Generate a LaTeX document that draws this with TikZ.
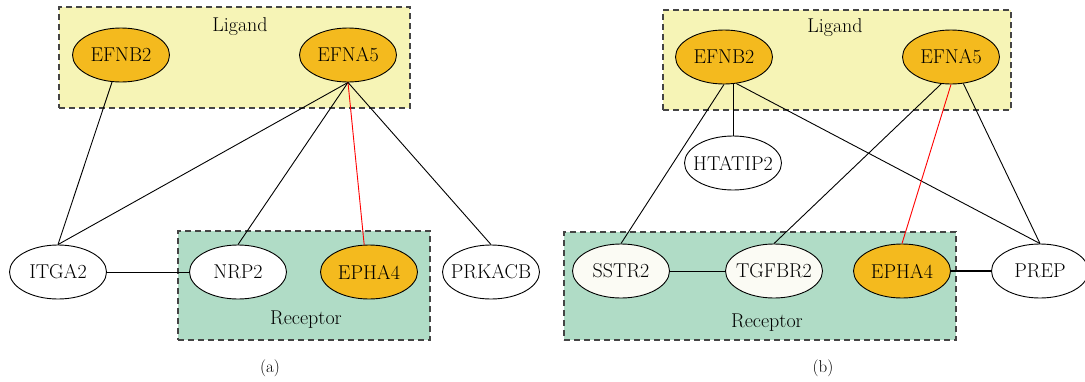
\documentclass[tikz,border=0pt]{standalone}
\usepackage{fontspec}
\usepackage{xcolor}
\usepackage{tikz}
\usetikzlibrary{shapes.geometric, positioning, calc}

\definecolor{hubcol}{HTML}{F4BA1E}
\definecolor{ligcol}{HTML}{F6F4B6}
\definecolor{reccol}{HTML}{B0DCC6}
\definecolor{boxline}{HTML}{444444}
\definecolor{paleN}{HTML}{FBFBF4}

\begin{document}
\begin{tikzpicture}[
    x=1pt, y=-1pt,
    font=\fontsize{20}{22}\selectfont,
    gene/.style={ellipse, draw, line width=0.9pt, fill=white, minimum width=97pt, minimum height=54pt, inner xsep=-14pt, inner ysep=0pt},
    hub/.style={gene, fill=hubcol},
    group/.style={rectangle, draw=boxline, dashed, dash pattern=on 6pt off 4pt, line width=1.3pt, inner sep=0pt},
    link/.style={line width=0.9pt},
    inter/.style={link, red}
]
\useasboundingbox (0,0) rectangle (1085,381);

% (a)
\node[group, fill=ligcol, minimum width=351pt, minimum height=101pt] (ligA) at (234.5,57.5) {};
\node[group, fill=reccol, minimum width=252pt, minimum height=109pt] (recA) at (304,285.5) {};
\node (ligAtxt) at (240,27) {Ligand};
\node (recAtxt) at (306,320) {Receptor};

\node[hub] (efnbA) at (121,55) {EFNB2};
\node[hub] (efnaA) at (348,55) {EFNA5};
\node[gene] (itgaA) at (58,272) {ITGA2};
\node[gene] (nrpA) at (238,272) {NRP2};
\node[hub] (ephaA) at (369,272) {EPHA4};
\node[gene] (prkA) at (491,272) {PRKACB};

\draw[link] (efnbA) -- (itgaA.north);
\draw[link] (efnaA.south) -- (itgaA.north);
\draw[link] (efnaA.south) -- (nrpA.north);
\draw[inter] (efnaA.south) -- (ephaA.100);
\draw[link] (efnaA.south) -- (prkA.north);
\draw[link] (itgaA) -- (nrpA);

\node[font=\fontsize{17}{19}\selectfont] (capA) at (270,368) {(a)};

% (b)
\node[group, fill=ligcol, minimum width=348pt, minimum height=100pt] (ligB) at (837,60) {};
\node[group, fill=reccol, minimum width=392pt, minimum height=108pt] (recB) at (760,286) {};
\node (ligBtxt) at (835,28) {Ligand};
\node (recBtxt) at (767,323) {Receptor};

\node[hub] (efnbB) at (724,57) {EFNB2};
\node[hub] (efnaB) at (951,57) {EFNA5};
\node[gene] (htaB) at (733,163) {HTATIP2};
\node[gene, fill=paleN] (sstrB) at (621,271) {SSTR2};
\node[gene, fill=paleN] (tgfB) at (774,271) {TGFBR2};
\node[hub] (ephaB) at (902,271) {EPHA4};
\node[gene] (prepB) at (1040,271) {PREP};

\draw[link] (efnbB.south) -- (sstrB.north);
\draw[link] (htaB.north) -- (htaB.north |- efnbB.south);
\draw[link] (efnbB.-65) -- (prepB.north);
\draw[link] (efnaB.-110) -- (tgfB.north);
\draw[inter] (efnaB.south) -- (ephaB.north);
\draw[link] (efnaB.-65) -- (prepB.north);
\draw[link] (sstrB) -- (tgfB);
\draw[link, line width=2pt] (ephaB) -- (prepB);

\node[font=\fontsize{17}{19}\selectfont] (capB) at (823,368) {(b)};
\end{tikzpicture}
\end{document}
